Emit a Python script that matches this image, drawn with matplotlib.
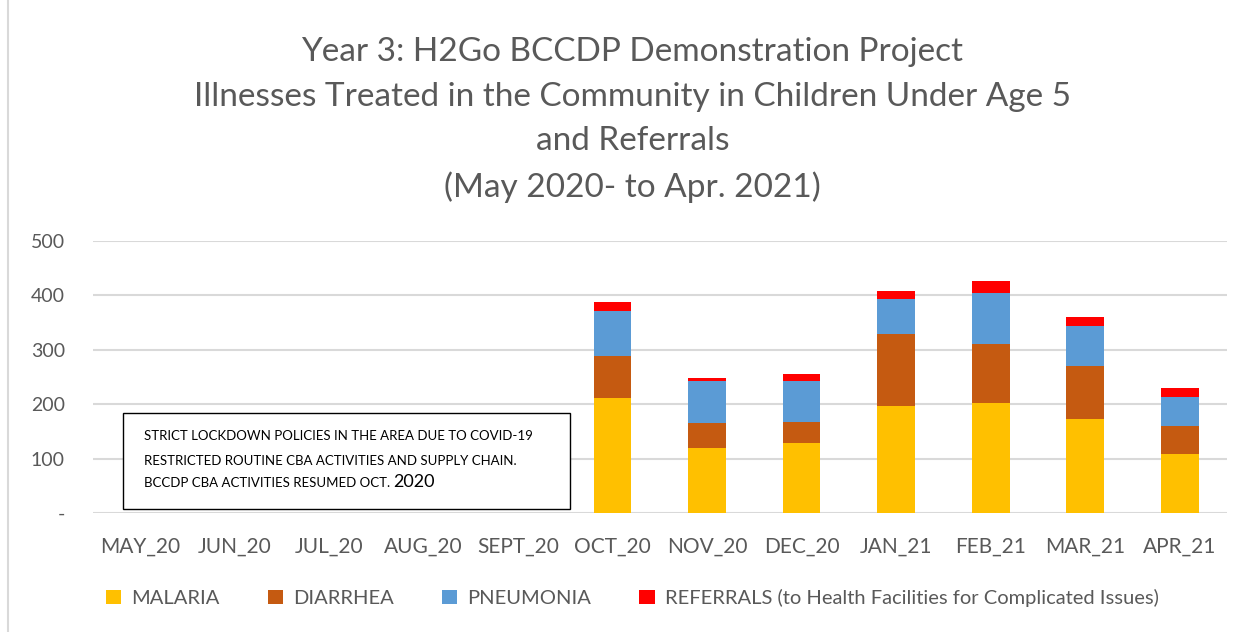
import numpy as np
import matplotlib.pyplot as plt
from matplotlib.patches import Rectangle

plt.rcParams['font.family'] = ['Lato', 'DejaVu Sans']

months = ['MAY_20', 'JUN_20', 'JUL_20', 'AUG_20', 'SEPT_20', 'OCT_20',
          'NOV_20', 'DEC_20', 'JAN_21', 'FEB_21', 'MAR_21', 'APR_21']
malaria = [0, 0, 0, 0, 0, 212, 119, 128, 197, 202, 172, 109]
diarrhea = [0, 0, 0, 0, 0, 76, 47, 40, 131, 109, 99, 51]
pneumonia = [0, 0, 0, 0, 0, 83, 77, 75, 66, 93, 73, 54]
referrals = [0, 0, 0, 0, 0, 16, 5, 12, 13, 23, 17, 16]

series = [('MALARIA', malaria, '#FFC000'),
          ('DIARRHEA', diarrhea, '#C55A11'),
          ('PNEUMONIA', pneumonia, '#5B9BD5'),
          ('REFERRALS (to Health Facilities for Complicated Issues)', referrals, '#FF0000')]

yticks = [0, 100, 200, 300, 400, 500]
ylabels = ['-', '100', '200', '300', '400', '500']

fig = plt.figure(figsize=(12.52, 6.32), dpi=100)
ax = fig.add_axes([0.074, 0.188, 0.906, 0.431])

x = np.arange(len(months))
bottom = np.zeros(len(months))
for name, vals, col in series:
    ax.bar(x, vals, 0.4, bottom=bottom, color=col, label=name, zorder=3)
    bottom += np.array(vals)

ax.set_xlim(-0.5, len(months) - 0.5)
ax.set_ylim(0, 500)
ax.set_yticks(yticks)
ax.set_yticklabels(ylabels)
ax.set_xticks(x)
ax.set_xticklabels(months)
ax.tick_params(axis='both', length=0, labelcolor='#595959')
ax.tick_params(axis='y', pad=20, labelsize=14)
ax.tick_params(axis='x', pad=17, labelsize=15)
ax.grid(axis='y', color='#D9D9D9', linewidth=1.5, zorder=0)
for s in ax.spines.values():
    s.set_visible(False)

fig.text(0.505, 0.81, 'Year 3: H2Go BCCDP Demonstration Project\n'
         'Illnesses Treated in the Community in Children Under Age 5\n'
         'and Referrals\n(May 2020- to Apr. 2021)',
         ha='center', va='center', fontsize=24, color='#595959', linespacing=1.6)

# note box
fig.patches.append(Rectangle((0.098, 0.195), 0.357, 0.152, transform=fig.transFigure,
                             facecolor='white', edgecolor='black', linewidth=1, zorder=5))
fig.text(0.115, 0.31, 'STRICT LOCKDOWN POLICIES IN THE AREA DUE TO COVID-19',
         fontsize=9.5, color='black', va='center', zorder=6)
fig.text(0.115, 0.27, 'RESTRICTED ROUTINE CBA ACTIVITIES AND SUPPLY CHAIN.',
         fontsize=9.5, color='black', va='center', zorder=6)
t = fig.text(0.115, 0.23, 'BCCDP CBA ACTIVITIES RESUMED OCT. ',
             fontsize=9.5, color='black', va='baseline', zorder=6)
fig.canvas.draw()
bb = t.get_window_extent().transformed(fig.transFigure.inverted())
fig.text(bb.x1, 0.23, '2020', fontsize=13, color='black', va='baseline', zorder=6)

fig.legend(loc='center', bbox_to_anchor=(0.505, 0.054), ncol=4, frameon=False,
           fontsize=14.5, labelcolor='#595959', handlelength=0.75, handleheight=0.75,
           columnspacing=2.4, handletextpad=0.5)

fig.patches.append(Rectangle((0.006, -0.1), 1.2, 1.2, transform=fig.transFigure,
                             facecolor='none', edgecolor='#D9D9D9', linewidth=1.5))

fig.savefig('out.png', dpi=100)
